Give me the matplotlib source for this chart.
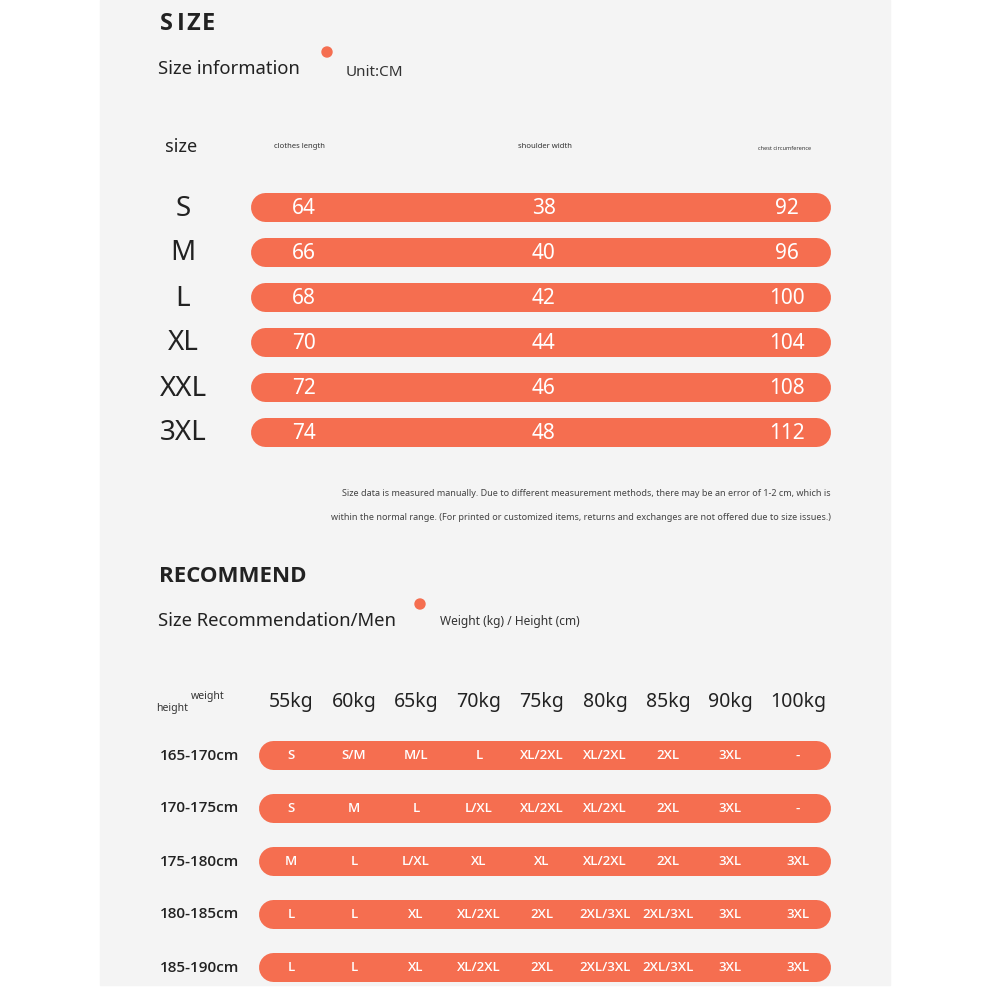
import matplotlib
matplotlib.use('Agg')
import matplotlib.pyplot as plt
from matplotlib.patches import Rectangle, Circle

plt.rcParams['font.family'] = ['Noto Sans', 'DejaVu Sans']

# size table (cm)
sizes = ['S', 'M', 'L', 'XL', 'XXL', '3XL']
clothes_length = [64, 66, 68, 70, 72, 74]
shoulder_width = [38, 40, 42, 44, 46, 48]
chest_circumference = [92, 96, 100, 104, 108, 112]
size_columns = ['clothes length', 'shoulder width', 'chest circumference']

# recommendation table
weights = ['55kg', '60kg', '65kg', '70kg', '75kg', '80kg', '85kg', '90kg', '100kg']
heights = ['165-170cm', '170-175cm', '175-180cm', '180-185cm', '185-190cm']
recommend = [
    ['S', 'S/M', 'M/L', 'L', 'XL/2XL', 'XL/2XL', '2XL', '3XL', '-'],
    ['S', 'M', 'L', 'L/XL', 'XL/2XL', 'XL/2XL', '2XL', '3XL', '-'],
    ['M', 'L', 'L/XL', 'XL', 'XL', 'XL/2XL', '2XL', '3XL', '3XL'],
    ['L', 'L', 'XL', 'XL/2XL', '2XL', '2XL/3XL', '2XL/3XL', '3XL', '3XL'],
    ['L', 'L', 'XL', 'XL/2XL', '2XL', '2XL/3XL', '2XL/3XL', '3XL', '3XL'],
]

note1 = ('Size data is measured manually. Due to different measurement methods, '
         'there may be an error of 1-2 cm, which is')
note2 = ('within the normal range. (For printed or customized items, returns and '
         'exchanges are not offered due to size issues.)')

orange = '#f56e50'
dark = '#222222'
bold_font = ['Open Sans', 'DejaVu Sans']

fig = plt.figure(figsize=(9.91, 9.91), dpi=100)
ax = fig.add_axes([0, 0, 1, 1])
ax.set_xlim(0, 991)
ax.set_ylim(991, 0)
ax.axis('off')

ax.add_patch(Rectangle((100, 0), 790, 985, color='#f4f4f4', zorder=0))


def pill(x0, x1, yc, h=29):
    # thick line with round caps -> pill shaped bar
    lw = h * 72 / 100
    ax.plot([x0 + h / 2, x1 - h / 2], [yc, yc], color=orange, lw=lw,
            solid_capstyle='round', zorder=1)


# ---- SIZE section
for k, ch in enumerate('SIZE'):
    ax.text(160 + [0, 17, 26, 42][k], 24, ch, fontsize=17, fontweight='bold',
            color=dark, va='center', ha='left', family=bold_font)
ax.text(158, 69, 'Size information', fontsize=13.3, color=dark, va='center')
ax.add_patch(Circle((327, 52), 5, color=orange))
ax.text(346, 73, 'Unit:CM', fontsize=11, color='#333333', va='center')

ax.text(165, 147, 'size', fontsize=13, color=dark, va='center')
ax.text(274, 147, size_columns[0], fontsize=5.5, color='#333333', va='center')
ax.text(518, 146, size_columns[1], fontsize=5.5, color='#333333', va='center')
ax.text(758, 148, size_columns[2], fontsize=4, color='#333333', va='center')

col_x = [304, 544, 787]
for i, s in enumerate(sizes):
    yc = 206.5 + 45 * i
    ax.text(183, yc + 2, s, fontsize=20, color=dark, ha='center', va='center')
    pill(250, 830, yc)
    vals = [clothes_length[i], shoulder_width[i], chest_circumference[i]]
    for x, v in zip(col_x, vals):
        ax.text(x, yc + 2, str(v), fontsize=15, color='white', ha='center',
                va='center', zorder=2)

ax.text(831, 494, note1, fontsize=6.5, color='#444444', ha='right', va='center')
ax.text(831, 517, note2, fontsize=6.5, color='#444444', ha='right', va='center')

# ---- RECOMMEND section
ax.text(159, 576, 'RECOMMEND', fontsize=16, fontweight='bold', color=dark,
        va='center', family=bold_font)
ax.text(158, 621, 'Size Recommendation/Men', fontsize=13.3, color=dark,
        va='center')
ax.add_patch(Circle((420, 604), 5, color=orange))
ax.text(440, 622, 'Weight (kg) / Height (cm)', fontsize=8.6, color='#333333',
        va='center')

ax.text(191, 696, 'weight', fontsize=7.5, color='#333333', va='center')
ax.text(156, 708, 'height', fontsize=7.5, color='#333333', va='center')

w_x = [291, 354, 416, 479, 542, 605, 668, 730, 798]
for x, w in zip(w_x, weights):
    ax.text(x, 702, w, fontsize=14, color=dark, ha='center', va='center')

for j, h in enumerate(heights):
    yc = 754.5 + 53 * j
    ax.text(200, yc + 1, h, fontsize=11, color=dark, ha='center', va='center',
            family=bold_font, fontweight='semibold')
    pill(258, 830, yc)
    for x, r in zip(w_x, recommend[j]):
        ax.text(x, yc + 1, r, fontsize=9.5, color='white', ha='center',
                va='center', zorder=2, family=bold_font, fontweight='semibold')

fig.savefig('out.png', dpi=100, facecolor='white')
